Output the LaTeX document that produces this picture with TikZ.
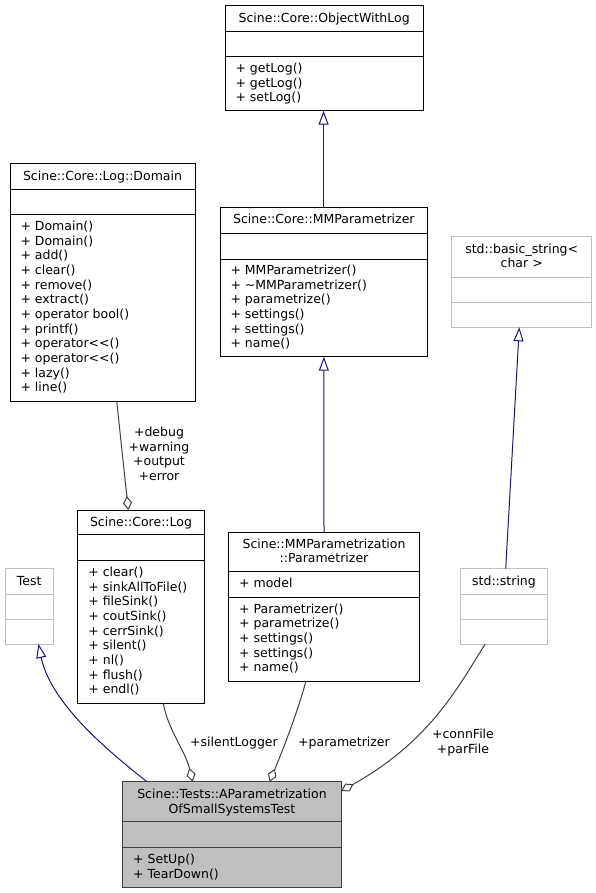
\documentclass[tikz,border=0pt]{standalone}
\usepackage{fontspec}
\setmainfont{DejaVu Sans}
\usetikzlibrary{arrows.meta}
\definecolor{greyA}{HTML}{404040}
\definecolor{greyB}{HTML}{BFBFBF}
\definecolor{midblue}{HTML}{191970}
\newcommand\dfont{\fontsize{12.5}{14.65}\selectfont}
\newcommand\mlines[1]{\begin{tabular}[t]{@{}l@{}}#1\end{tabular}}
\newcommand\clines[1]{\begin{tabular}[t]{@{}c@{}}#1\end{tabular}}
\newcommand\clsep[3]{\draw[#1] (#2.west |- 0,#3) -- (#2.east |- 0,#3);}
\tikzset{
  cls/.style={draw=black, fill=white, line width=1pt, inner sep=0pt, outer sep=0pt, anchor=north west},
  gcls/.style={cls, draw=greyB},
  rootcls/.style={cls, draw=greyA, fill=greyB},
  bsep/.style={line width=1pt, draw=black},
  gsep/.style={line width=1pt, draw=greyB},
  rsep/.style={line width=1pt, draw=greyA},
  ttl/.style={inner sep=0pt, anchor=base, font=\dfont},
  mth/.style={inner sep=0pt, anchor=base west, font=\dfont},
  lbl/.style={inner sep=0pt, anchor=base, font=\dfont},
  inh/.style={draw=midblue, line width=1pt, -{Triangle[open, length=14pt, width=10pt, fill=white]}},
  agg/.style={draw=greyA, line width=1pt, -{Diamond[open, length=14pt, width=9pt, fill=white]}}
}
\begin{document}
\begin{tikzpicture}[x=1pt,y=-1pt]
\useasboundingbox (0,0) rectangle (596,893);
% boxes
\node[cls, minimum width=198.3pt, minimum height=105pt] (owl) at (225,5.7) {};
\node[cls, minimum width=185pt, minimum height=237pt] (dom) at (10,164) {};
\node[cls, minimum width=207.7pt, minimum height=149pt] (mmp) at (220,207.7) {};
\node[cls, minimum width=126.6pt, minimum height=193.3pt] (log) at (77.7,510) {};
\node[cls, minimum width=190.6pt, minimum height=149pt] (par) at (228.7,532) {};
\node[gcls, minimum width=48.3pt, minimum height=75.3pt] (test) at (5,568.7) {};
\node[gcls, minimum width=86.6pt, minimum height=75.6pt] (str) at (460.7,568.7) {};
\node[gcls, minimum width=140pt, minimum height=90.6pt] (bstr) at (451.7,236.7) {};
\node[rootcls, minimum width=218.6pt, minimum height=105.3pt] (ap) at (122.7,781.7) {};
% separators
\clsep{bsep}{owl}{31.7}\clsep{bsep}{owl}{56.7}
\clsep{bsep}{dom}{189.5}\clsep{bsep}{dom}{215}
\clsep{bsep}{mmp}{233.3}\clsep{bsep}{mmp}{259}
\clsep{bsep}{log}{534.7}\clsep{bsep}{log}{560.7}
\clsep{bsep}{par}{571.7}\clsep{bsep}{par}{597.3}
\clsep{gsep}{test}{594}\clsep{gsep}{test}{619}
\clsep{gsep}{str}{594}\clsep{gsep}{str}{619}
\clsep{gsep}{bstr}{277.3}\clsep{gsep}{bstr}{302.3}
\clsep{rsep}{ap}{821.7}\clsep{rsep}{ap}{847.3}
% texts
\node[ttl] (owl-t) at (324.15,22.3) {Scine::Core::ObjectWithLog};
\node[mth] (owl-m) at (235.3,72.4) {\mlines{+ getLog()\\+ getLog()\\+ setLog()}};
\node[ttl] (dom-t) at (102.5,180.2) {Scine::Core::Log::Domain};
\node[mth] (dom-m) at (20.3,230.5) {\mlines{+ Domain()\\+ Domain()\\+ add()\\+ clear()\\+ remove()\\+ extract()\\+ operator bool()\\+ printf()\\+ operator<{}<{}()\\+ operator<{}<{}()\\+ lazy()\\+ line()}};
\node[ttl] (mmp-t) at (323.85,223.8) {Scine::Core::MMParametrizer};
\node[mth] (mmp-m) at (230.3,274.5) {\mlines{+ MMParametrizer()\\+ \textasciitilde MMParametrizer()\\+ parametrize()\\+ settings()\\+ settings()\\+ name()}};
\node[ttl] (log-t) at (141,526.2) {Scine::Core::Log};
\node[mth] (log-m) at (88.2,576.5) {\mlines{+ clear()\\+ sinkAllToFile()\\+ fileSink()\\+ coutSink()\\+ cerrSink()\\+ silent()\\+ nl()\\+ flush()\\+ endl()}};
\node[ttl] (par-t) at (324,548.2) {\clines{Scine::MMParametrization\\::Parametrizer}};
\node[mth] (par-a) at (239,587.8) {+ model};
\node[mth] (par-m) at (239,613.2) {\mlines{+ Parametrizer()\\+ parametrize()\\+ settings()\\+ settings()\\+ name()}};
\node[ttl] (test-t) at (29.15,585.2) {Test};
\node[ttl] (str-t) at (504,585.2) {std::string};
\node[ttl] (bstr-t) at (521.7,253.2) {\clines{std::basic\_string<\\char >}};
\node[ttl] (ap-t) at (232,798.5) {\clines{Scine::Tests::AParametrization\\OfSmallSystemsTest}};
\node[mth] (ap-m) at (133,863.5) {\mlines{+ SetUp()\\+ TearDown()}};
% inheritance
\draw[inh] ([xshift=-0.3pt]mmp.north) -- ([xshift=-0.6pt]owl.south);
\draw[inh] (par.north) -- (mmp.south);
\draw[inh] ([xshift=1.7pt]str.north) -- ([xshift=-2.4pt]bstr.south);
\draw[inh] ([xshift=24.3pt]ap.north west) .. controls (100,745) and (50,700) .. ([xshift=9.3pt]test.south);
% aggregation
\draw[agg] ([xshift=14.2pt]dom.south) -- ([xshift=-12.7pt]log.north);
\draw[agg] ([xshift=22.3pt]log.south) .. controls (168,730) and (185,750) .. ([xshift=70pt]ap.north west);
\draw[agg] ([xshift=-18pt]par.south) .. controls (298,710) and (285,745) .. ([xshift=146.8pt]ap.north west);
\draw[agg] ([xshift=-19pt]str.south) .. controls (455.9,691) and (428.3,742) .. ([yshift=-9.3pt]ap.north east);
% labels
\node[lbl] (l-dom) at (159,436.5) {\clines{+debug\\+warning\\+output\\+error}};
\node[lbl] (l-sil) at (234,746.2) {+silentLogger};
\node[lbl] (l-par) at (344,746.2) {+parametrizer};
\node[lbl] (l-str) at (463,738.5) {\clines{+connFile\\+parFile}};
\end{tikzpicture}
\end{document}
